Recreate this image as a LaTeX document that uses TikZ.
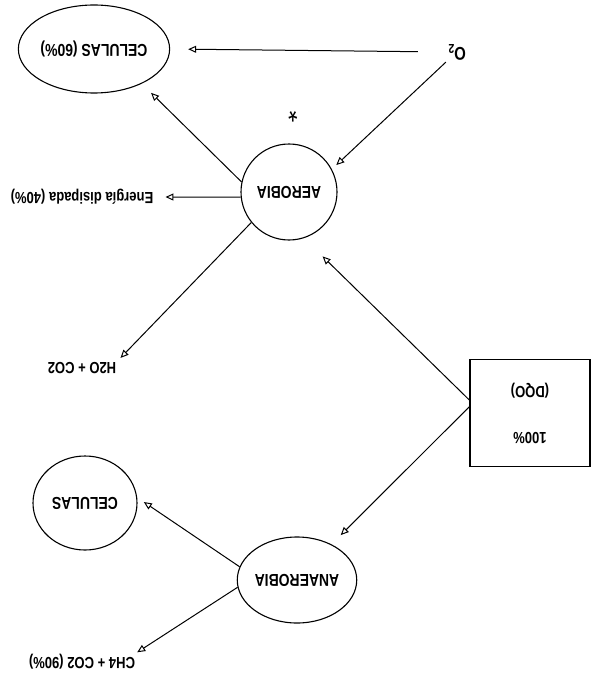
\documentclass[tikz,border=0pt]{standalone}
\usepackage{fontspec}
\setmainfont{Liberation Sans}
\usetikzlibrary{arrows.meta,shapes.geometric}
% upside-down, slightly condensed lettering
\newcommand{\inv}[1]{\rotatebox[origin=c]{180}{\scalebox{0.93}[1.15]{#1}}}
\tikzset{
  etapa/.style={ellipse, draw, line width=1.1pt, inner sep=0pt,
    font=\fontsize{15}{17}\selectfont\bfseries},
  rotulo/.style={inner sep=2pt, font=\fontsize{14}{16}\selectfont\bfseries},
  flecha/.style={line width=1pt, -{Triangle[open,length=8pt,width=7pt]}}
}

\begin{document}
\begin{tikzpicture}[x=1pt,y=-1pt]

\useasboundingbox[fill=white] (0,0) rectangle (593,682);

%--- Nodes ---

\node[etapa, minimum width=122, minimum height=88] (cel60) at (94,49)  {\inv{CELULAS (60\%)}};
\node[etapa, circle, minimum size=96]              (aer)   at (289,192) {\inv{AEROBIA}};
\node[etapa, minimum width=100, minimum height=86] (anae)  at (297,580) {\inv{ANAEROBIA}};
\node[etapa, minimum width=104, minimum height=94] (cel)   at (85,503)  {\inv{CELULAS}};

\node[rotulo, font=\fontsize{16}{18}\selectfont\bfseries] (o2) at (457,52) {\inv{O\textsubscript{2}}};
\node[rotulo, font=\fontsize{26}{26}\selectfont] (star) at (293,112) {\inv{*}};
\node[rotulo] (ener) at (82,197)  {\inv{Energía disipada (40\%)}};
\node[rotulo] (h2o)  at (82,368)  {\inv{H2O + CO2}};
\node[rotulo] (ch4)  at (82,662)  {\inv{CH4 + CO2 (90\%)}};

\node[draw, line width=1.1pt, minimum width=120, minimum height=107,
      font=\fontsize{14}{16}\selectfont\bfseries] (dqo) at (530,413)
  {\inv{\begin{tabular}{c}100\%\\[24pt](DQO)\end{tabular}}};

%--- Arrows ---

\draw[flecha, shorten <=28pt, shorten >=18pt] (o2.west) -- (cel60.east);
\draw[flecha, shorten >=6pt] (o2.south west) -- (aer.28);
\draw[flecha, shorten >=13pt] (aer.168) -- (cel60.-36);
\draw[flecha, shorten >=10pt] (aer.186) -- (ener.east);
\draw[flecha, shorten >=3pt] (aer.219) -- (h2o.north east);

\draw[flecha, shorten >=26pt] (dqo.168) -- (aer.-72);
\draw[flecha, shorten >=13pt] (dqo.174) -- (anae.46);

\draw[flecha, shorten >=8pt] (anae.167) -- (cel.6);
\draw[flecha] (anae.187) -- (ch4.north east);

\end{tikzpicture}
\end{document}
